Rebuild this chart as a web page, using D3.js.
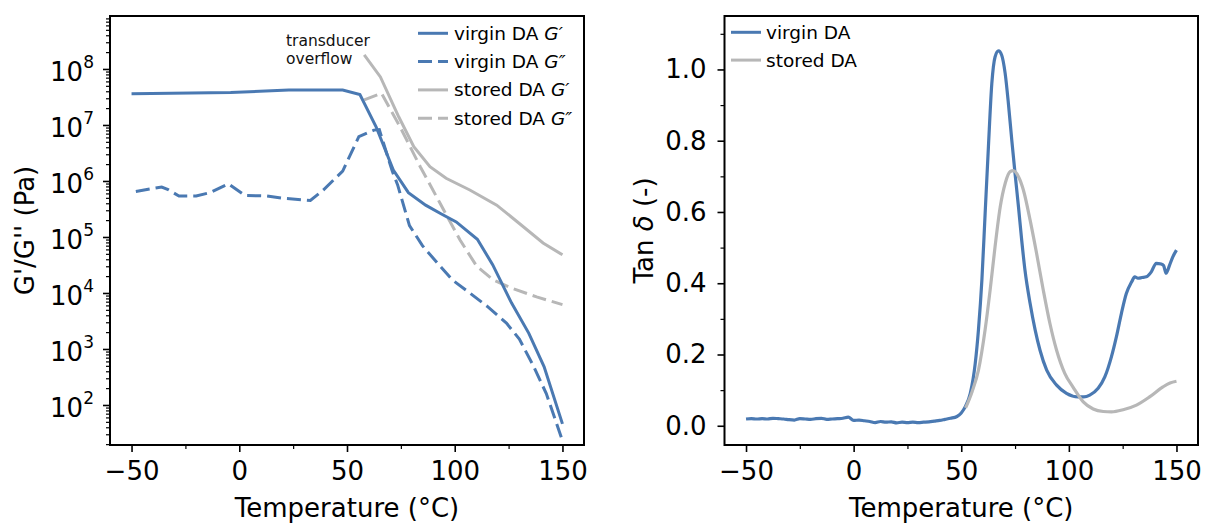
<!DOCTYPE html>
<html>
<head>
<meta charset="utf-8">
<script src="https://cdn.jsdelivr.net/npm/d3@7"></script>
<style>
    body { margin: 0; background: #fff; }
    svg { display: block; font-family: "DejaVu Sans", sans-serif; }
</style>
</head>
<body>
<div id="chart"></div>
<script>
// Data: moduli (Pa) against temperature (°C)
var virgin_gp_temp   =   [-50, -4, 23, 48, 56, 63.5, 71.5, 78.5, 86.5, 93.6, 100.7, 110.5, 117.6, 126.4, 134.4, 141.5, 150];
var virgin_gp        =   [3.6e7, 3.8e7, 4.2e7, 4.2e7, 3.5e7, 9.3e6, 1.57e6, 6.2e5, 3.7e5, 2.6e5, 1.86e5, 9.1e4, 3.2e4, 6.6e3, 1.9e3, 480, 46];
var virgin_gpp_temp  =   [-48, -36, -33, -28, -20, -13.5, -5, 2.7, 12.7, 20.4, 33, 39, 48, 55.5, 62.5, 65, 71, 73.5, 79, 85, 92, 99, 107, 115, 124, 130, 136.5, 142.5, 150];
var virgin_gpp       =   [6.5e5, 7.8e5, 7.0e5, 5.4e5, 5.4e5, 6.2e5, 8.9e5, 5.5e5, 5.4e5, 4.9e5, 4.5e5, 6.9e5, 1.5e6, 6.2e6, 8.1e6, 8.3e6, 1.5e6, 8.5e5, 1.6e5, 7e4, 3.4e4, 1.7e4, 1e4, 5.8e3, 2.9e3, 1.5e3, 500, 160, 23];
var stored_gp_temp   =   [58, 65.5, 74, 81, 88.5, 96, 107, 119.5, 130, 141, 150];
var stored_gp        =   [1.78e8, 7.2e7, 1.4e7, 4.1e6, 1.8e6, 1.12e6, 6.9e5, 3.7e5, 1.74e5, 7.8e4, 4.8e4];
var stored_gpp_temp  =   [58, 66, 74.6, 84, 93.2, 102.4, 110.2, 118, 127, 138, 150];
var stored_gpp       =   [2.8e7, 3.7e7, 9.3e6, 1.8e6, 4e5, 8.9e4, 3e4, 1.7e4, 1.2e4, 8.5e3, 6.2e3];

// Data: tan delta against temperature (°C)
var virgin_tan_temp  =   [-50, -47.5, -45, -42.5, -40, -37.5, -35, -32.5, -30, -27.5, -25, -22.5, -20, -17.5, -15, -12.5, -10, -7.5, -5, -2.5,
                          0, 2.5, 5, 7.5, 10, 12.5, 15, 17.5, 20, 22.5, 25, 27.5, 30, 32.5, 35, 37.5, 40, 42.5, 45,
                          48, 50, 52, 54.2, 56.5, 58, 59.6, 61.1, 62.6, 64.2, 65.7, 67.3, 68.8, 70.4, 71.9, 73.5, 75, 76.6, 78.1, 79.6,
                          82, 84.3, 86.6, 89.7, 94.3, 98.9, 104.3, 107, 109.7, 113.6, 116.7, 119.8, 122.1, 124.4, 126.7, 129.2,
                          130.6, 132.1, 134, 136, 138.3, 140.6, 142.9, 144, 145.2, 146.8, 148.3, 150];
var virgin_tan       =   [0.019, 0.020, 0.019, 0.020, 0.019, 0.021, 0.020, 0.019, 0.017, 0.016, 0.020, 0.019, 0.018, 0.020, 0.021, 0.018, 0.019, 0.020, 0.021, 0.024,
                          0.015, 0.016, 0.014, 0.012, 0.009, 0.012, 0.010, 0.011, 0.008, 0.010, 0.009, 0.010, 0.009, 0.010, 0.011, 0.013, 0.015, 0.018, 0.021,
                          0.026, 0.036, 0.055, 0.091, 0.175, 0.27, 0.41, 0.596, 0.78, 0.96, 1.035, 1.052, 1.04, 0.989, 0.905, 0.80, 0.708, 0.614, 0.52, 0.437,
                          0.343, 0.27, 0.212, 0.156, 0.114, 0.091, 0.081, 0.081, 0.086, 0.105, 0.137, 0.194, 0.25, 0.315, 0.371, 0.404,
                          0.418, 0.414, 0.416, 0.418, 0.432, 0.456, 0.454, 0.45, 0.428, 0.451, 0.474, 0.493];
var stored_tan_temp  =   [52, 55, 58, 61.1, 63.4, 65.7, 68.1, 70.4, 72.7, 74.2, 76.6, 78.9, 82, 85, 88.1, 91.2, 94.3, 98.1, 102, 106.7, 111.3, 116, 119.8, 125.2, 131.4, 137.5, 143.7, 147, 150];
var stored_tan       =   [0.05, 0.095, 0.156, 0.27, 0.38, 0.502, 0.614, 0.68, 0.713, 0.716, 0.699, 0.661, 0.577, 0.484, 0.381, 0.287, 0.212, 0.147, 0.108, 0.067, 0.047, 0.04, 0.039, 0.045, 0.058, 0.081, 0.109, 0.12, 0.125];

// Ticks and labels
var x_ticks          =   [-50, 0, 50, 100, 150];
var x_minor          =   [-25, 25, 75, 125];
var log_ticks        =   [1e2, 1e3, 1e4, 1e5, 1e6, 1e7, 1e8];
var tan_ticks        =   [0, 0.2, 0.4, 0.6, 0.8, 1.0];
var tan_minor        =   [0.1, 0.3, 0.5, 0.7, 0.9, 1.1];
var mod_names        =   ["virgin DA", "virgin DA", "stored DA", "stored DA"];
var mod_parts        =   ["G\u2032", "G\u2033", "G\u2032", "G\u2033"];
var tan_names        =   ["virgin DA", "stored DA"];

var blue            =   "#4a79b2";
var grey            =   "#b7b7b7";
var chart_width     =   1205;
var chart_height    =   524;
var top_y           =   16;
var bottom_y        =   445;
var big_font        =   "26px";

var svg             =   d3.select("#chart")
    .append("svg")
    .attr("width", chart_width)
    .attr("height", chart_height);

var minus = function(d) {
    return d < 0 ? "\u2212" + Math.abs(d) : String(d);
};

function drawXAxis(g, x_scale) {
    var major = g.append("g")
        .attr("transform", "translate(0," + bottom_y + ")")
        .call(d3.axisBottom(x_scale).tickValues(x_ticks).tickSize(7).tickPadding(10).tickFormat(minus));
    major.select(".domain").remove();
    major.selectAll("line").attr("stroke-width", 1.6);
    major.selectAll("text").attr("font-size", big_font).attr("font-family", "DejaVu Sans");
    var minor = g.append("g")
        .attr("transform", "translate(0," + bottom_y + ")")
        .call(d3.axisBottom(x_scale).tickValues(x_minor).tickSize(4).tickFormat(""));
    minor.select(".domain").remove();
    minor.selectAll("line").attr("stroke-width", 1.2);
}

function frame(g, x0, x1) {
    g.append("rect")
        .attr("x", x0).attr("y", top_y)
        .attr("width", x1 - x0).attr("height", bottom_y - top_y)
        .attr("fill", "none").attr("stroke", "#000").attr("stroke-width", 2);
}

// ---------- Left: G' / G'' ----------
var left_x0 = 110, left_x1 = 584;
var x_left          =   d3.scaleLinear().domain([-60, 160]).range([left_x0, left_x1]);
var y_log           =   d3.scaleLog().domain([19.3, 8.83e8]).range([bottom_y, top_y]);

var left = svg.append("g");
drawXAxis(left, x_left);

var log_minor = [];
d3.range(1, 9).forEach(function(e) {
    d3.range(2, 10).forEach(function(k) {
        var v = k * Math.pow(10, e);
        if (v >= 19.3 && v <= 8.83e8) log_minor.push(v);
    });
});

var y_major = left.append("g")
    .attr("transform", "translate(" + left_x0 + ",0)")
    .call(d3.axisLeft(y_log).tickValues(log_ticks).tickSize(7).tickPadding(9).tickFormat(""));
y_major.select(".domain").remove();
y_major.selectAll("line").attr("stroke-width", 1.6);
y_major.selectAll(".tick text")
    .attr("font-size", big_font)
    .attr("font-family", "DejaVu Sans")
    .attr("dy", "0.46em")
    .each(function(d) {
        var t = d3.select(this);
        t.append("tspan").text("10");
        t.append("tspan").attr("font-size", "17px").attr("dy", "-13").text(Math.round(Math.log10(d)));
    });
var y_minor = left.append("g")
    .attr("transform", "translate(" + left_x0 + ",0)")
    .call(d3.axisLeft(y_log).tickValues(log_minor).tickSize(4).tickFormat(""));
y_minor.select(".domain").remove();
y_minor.selectAll("line").attr("stroke-width", 1.2);

var log_line = d3.line()
    .x(function(d) { return x_left(d[0]); })
    .y(function(d) { return y_log(d[1]); });

var mod_series = [
    { pts: d3.zip(stored_gp_temp, stored_gp),   color: grey, dash: null },
    { pts: d3.zip(stored_gpp_temp, stored_gpp), color: grey, dash: "14,6" },
    { pts: d3.zip(virgin_gp_temp, virgin_gp),   color: blue, dash: null },
    { pts: d3.zip(virgin_gpp_temp, virgin_gpp), color: blue, dash: "14,6" }
];
mod_series.forEach(function(s) {
    left.append("path")
        .attr("d", log_line(s.pts))
        .attr("fill", "none")
        .attr("stroke", s.color)
        .attr("stroke-width", 3)
        .attr("stroke-dasharray", s.dash);
});

frame(left, left_x0, left_x1);

// annotation
var note = left.append("text")
    .attr("x", 286).attr("font-size", "15.5px").attr("fill", "#111");
note.append("tspan").attr("x", 286).attr("y", 46).text("transducer");
note.append("tspan").attr("x", 286).attr("y", 64).text("overflow");

// legend
var mod_styles = [[blue, null], [blue, "14,6"], [grey, null], [grey, "14,6"]];
mod_names.forEach(function(name, i) {
    var yy = 33.3 + i * 28.3;
    left.append("line")
        .attr("x1", 418).attr("x2", 448).attr("y1", yy).attr("y2", yy)
        .attr("stroke", mod_styles[i][0]).attr("stroke-width", 3)
        .attr("stroke-dasharray", mod_styles[i][1]);
    var t = left.append("text")
        .attr("x", 454).attr("y", yy + 6.5)
        .attr("font-size", "18.5px");
    t.append("tspan").text(name + " ");
    t.append("tspan").attr("font-style", "italic").text(mod_parts[i]);
});

left.append("text")
    .attr("transform", "translate(34," + ((top_y + bottom_y) / 2) + ") rotate(-90)")
    .attr("text-anchor", "middle")
    .attr("font-size", big_font)
    .text("G'/G'' (Pa)");
left.append("text")
    .attr("x", (left_x0 + left_x1) / 2).attr("y", 517)
    .attr("text-anchor", "middle")
    .attr("font-size", big_font)
    .text("Temperature (\u00b0C)");

// ---------- Right: tan delta ----------
var right_x0 = 724.5, right_x1 = 1198;
var x_right         =   d3.scaleLinear().domain([-60, 160]).range([right_x0, right_x1]);
var y_tan           =   d3.scaleLinear().domain([-0.054, 1.15]).range([bottom_y, top_y]);

var right = svg.append("g");
drawXAxis(right, x_right);

var ty_major = right.append("g")
    .attr("transform", "translate(" + right_x0 + ",0)")
    .call(d3.axisLeft(y_tan).tickValues(tan_ticks).tickSize(7).tickPadding(11).tickFormat(d3.format(".1f")));
ty_major.select(".domain").remove();
ty_major.selectAll("line").attr("stroke-width", 1.6);
ty_major.selectAll("text").attr("font-size", big_font).attr("font-family", "DejaVu Sans");
var ty_minor = right.append("g")
    .attr("transform", "translate(" + right_x0 + ",0)")
    .call(d3.axisLeft(y_tan).tickValues(tan_minor).tickSize(4).tickFormat(""));
ty_minor.select(".domain").remove();
ty_minor.selectAll("line").attr("stroke-width", 1.2);

var tan_line = d3.line()
    .x(function(d) { return x_right(d[0]); })
    .y(function(d) { return y_tan(d[1]); })
    .curve(d3.curveMonotoneX);

right.append("path")
    .attr("d", tan_line(d3.zip(virgin_tan_temp, virgin_tan)))
    .attr("fill", "none").attr("stroke", blue).attr("stroke-width", 3.2);
right.append("path")
    .attr("d", tan_line(d3.zip(stored_tan_temp, stored_tan)))
    .attr("fill", "none").attr("stroke", grey).attr("stroke-width", 3.2);

frame(right, right_x0, right_x1);

var tan_colors = [blue, grey];
tan_names.forEach(function(name, i) {
    var yy = 32.3 + i * 27.8;
    right.append("line")
        .attr("x1", 731).attr("x2", 761).attr("y1", yy).attr("y2", yy)
        .attr("stroke", tan_colors[i]).attr("stroke-width", 3);
    right.append("text")
        .attr("x", 766).attr("y", yy + 6.5)
        .attr("font-size", "18.5px")
        .text(name);
});

var tan_label = right.append("text")
    .attr("transform", "translate(653," + ((top_y + bottom_y) / 2) + ") rotate(-90)")
    .attr("text-anchor", "middle")
    .attr("font-size", big_font);
tan_label.append("tspan").text("Tan ");
tan_label.append("tspan").attr("font-style", "italic").text("\u03b4");
tan_label.append("tspan").text(" (-)");

right.append("text")
    .attr("x", (right_x0 + right_x1) / 2).attr("y", 517)
    .attr("text-anchor", "middle")
    .attr("font-size", big_font)
    .text("Temperature (\u00b0C)");
</script>
</body>
</html>
